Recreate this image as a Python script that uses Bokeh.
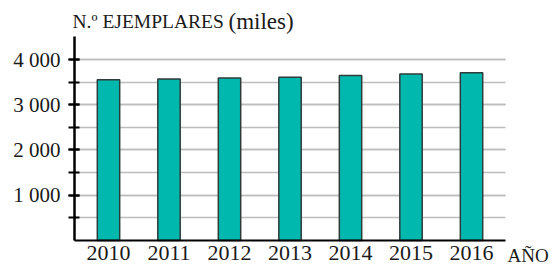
from bokeh.plotting import figure
from bokeh.models import Range1d, FixedTicker, Label
from bokeh.embed import file_html
from bokeh.resources import INLINE

years = ["2010", "2011", "2012", "2013", "2014", "2015", "2016"]
copies = [3550, 3570, 3590, 3610, 3645, 3680, 3705]
y_major = [1000, 2000, 3000, 4000]
y_minor = [500, 1000, 1500, 2000, 2500, 3000, 3500, 4000]
y_labels = {1000: "1 000", 2000: "2 000", 3000: "3 000", 4000: "4 000"}
y_top = 4500

FONT = "Liberation Serif"
TXT = "#1a1a1a"

xs = list(range(len(years)))
x_edge = (-0.562, len(years) - 1 + 0.562)   # extent of axis line / grid

p = figure(width=553, height=266, output_backend="svg", toolbar_location=None,
           x_range=Range1d(-1.785, 7.355), y_range=Range1d(-575, 5304),
           min_border_left=0, min_border_right=0, min_border_top=0, min_border_bottom=0)
p.outline_line_color = None
p.background_fill_color = "white"
p.border_fill_color = "white"

p.vbar(x=xs, top=copies, width=0.37, fill_color="#00b8ad",
       line_color="#2f3b3a", line_width=1.5)

# y axis
ya = p.yaxis[0]
ya.fixed_location = x_edge[0]
ya.bounds = (0, y_top)
ya.ticker = FixedTicker(ticks=y_major, minor_ticks=y_minor)
ya.major_label_overrides = y_labels
ya.axis_line_color = "black"
ya.axis_line_width = 2.5
ya.major_tick_line_color = "black"
ya.major_tick_line_width = 2
ya.major_tick_in = 5
ya.major_tick_out = 6
ya.minor_tick_line_color = "black"
ya.minor_tick_line_width = 2
ya.minor_tick_in = 5
ya.minor_tick_out = 6
ya.major_label_text_font = FONT
ya.major_label_text_font_size = "21px"
ya.major_label_text_color = TXT
ya.major_label_standoff = 8

# x axis
xa = p.xaxis[0]
xa.fixed_location = 0
xa.bounds = x_edge
xa.ticker = FixedTicker(ticks=xs, minor_ticks=[])
xa.major_label_overrides = {i: y for i, y in zip(xs, years)}
xa.axis_line_color = "black"
xa.axis_line_width = 2
xa.major_tick_line_color = None
xa.minor_tick_line_color = None
xa.major_tick_out = 0
xa.major_tick_in = 0
xa.major_label_text_font = FONT
xa.major_label_text_font_size = "22px"
xa.major_label_text_color = TXT
xa.major_label_standoff = 6

p.xgrid.grid_line_color = None
p.ygrid.ticker = FixedTicker(ticks=y_major, minor_ticks=y_minor)
p.ygrid.cross_bounds = x_edge
p.ygrid.grid_line_color = "#bdbdbd"
p.ygrid.grid_line_width = 1.5
p.ygrid.minor_grid_line_color = "#bdbdbd"
p.ygrid.minor_grid_line_width = 1.5

# titles (screen units: from the frame's bottom-left corner, here the canvas)
p.add_layout(Label(x=72, y=245, x_units="screen", y_units="screen",
                   text="N.º EJEMPLARES", text_font=FONT, text_font_size="19.5px",
                   text_color=TXT, text_baseline="alphabetic"))
p.add_layout(Label(x=228, y=245, x_units="screen", y_units="screen",
                   text="(miles)", text_font=FONT, text_font_size="23px",
                   text_color=TXT, text_baseline="alphabetic"))
p.add_layout(Label(x=507, y=11, x_units="screen", y_units="screen",
                   text="AÑO", text_font=FONT, text_font_size="19px",
                   text_color=TXT, text_baseline="alphabetic"))

open("out.html", "w").write(file_html(p, INLINE))
